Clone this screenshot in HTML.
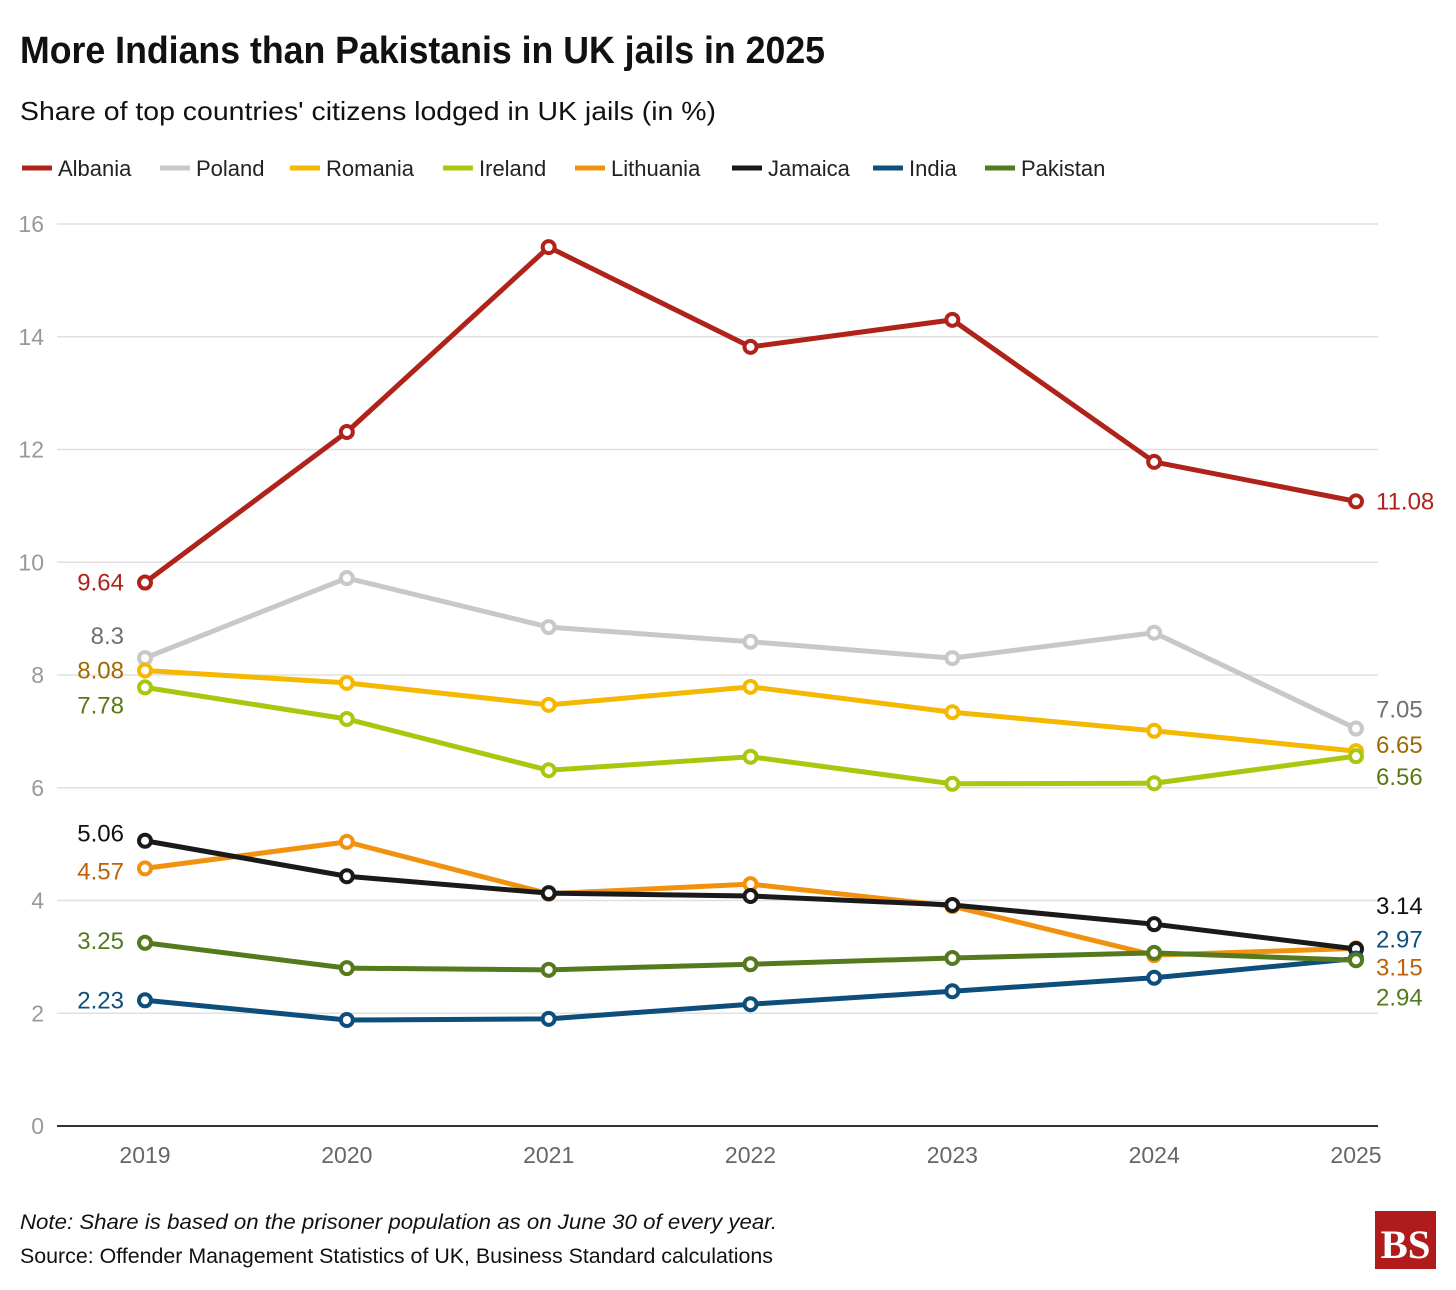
<!DOCTYPE html>
<html><head><meta charset="utf-8"><style>
html,body{margin:0;padding:0;background:#fff;}
svg{display:block;font-family:"Liberation Sans Narrow","Liberation Sans",sans-serif;}
</style></head><body>
<svg id="chart" width="1456" height="1290" viewBox="0 0 1456 1290">
<text x="20" y="63" font-size="38" font-weight="bold" fill="#111" textLength="805" lengthAdjust="spacingAndGlyphs">More Indians than Pakistanis in UK jails in 2025</text>
<text x="20" y="120" font-size="26" fill="#111" textLength="696" lengthAdjust="spacingAndGlyphs">Share of top countries' citizens lodged in UK jails (in %)</text>
<g id="legend"></g>
<g id="grid"></g>
<g id="xaxis"></g>
<g id="series"></g>
<text x="20" y="1229" font-size="21" font-style="italic" fill="#111" textLength="757" lengthAdjust="spacingAndGlyphs">Note: Share is based on the prisoner population as on June 30 of every year.</text>
<text x="20" y="1263" font-size="21" fill="#111" textLength="753" lengthAdjust="spacingAndGlyphs">Source: Offender Management Statistics of UK, Business Standard calculations</text>
<g>
<rect x="1375" y="1211" width="61" height="58" fill="#b01c1c"/>
<text x="1405.5" y="1258" text-anchor="middle" font-family="Liberation Serif,serif" font-weight="bold" font-size="40" fill="#fff" textLength="50" lengthAdjust="spacingAndGlyphs">BS</text>
</g>
</svg>
<script>
const years = ["2019","2020","2021","2022","2023","2024","2025"];
const yTicks = [0,2,4,6,8,10,12,14,16];
const seriesNames = ["Albania","Poland","Romania","Ireland","Lithuania","Jamaica","India","Pakistan"];
const albania = [9.64,12.31,15.59,13.82,14.30,11.78,11.08];
const poland = [8.3,9.72,8.85,8.59,8.30,8.75,7.05];
const romania = [8.08,7.86,7.47,7.79,7.34,7.01,6.65];
const ireland = [7.78,7.22,6.31,6.55,6.07,6.08,6.56];
const lithuania = [4.57,5.04,4.12,4.29,3.90,3.03,3.15];
const jamaica = [5.06,4.43,4.13,4.08,3.92,3.58,3.14];
const india = [2.23,1.88,1.90,2.16,2.39,2.63,2.97];
const pakistan = [3.25,2.80,2.77,2.87,2.98,3.07,2.94];

const NS="http://www.w3.org/2000/svg";
function mk(tag,attrs,parent){const e=document.createElementNS(NS,tag);for(const k in attrs)e.setAttribute(k,attrs[k]);parent.appendChild(e);return e;}
const x0=145,x1=1356,yBase=1126,yTop=224;
const xScale=i=>x0+(x1-x0)*i/(years.length-1);
const yScale=v=>yBase-(yBase-yTop)*v/16;

const styles=[
 {c:"#b0231a",lc:"#b0231a",dl:0,dr:0},
 {c:"#c8c8c8",lc:"#707070",dl:-22,dr:-19},
 {c:"#f5b800",lc:"#a06a00",dl:0,dr:-6},
 {c:"#a8c80f",lc:"#5a7a10",dl:18,dr:21},
 {c:"#f0920f",lc:"#c0600a",dl:3,dr:19},
 {c:"#1a1a1a",lc:"#111",dl:-7,dr:-43},
 {c:"#0d4f7a",lc:"#0d4f7a",dl:0,dr:-19},
 {c:"#557a1e",lc:"#557a1e",dl:-2,dr:37}
];
const allData=[albania,poland,romania,ireland,lithuania,jamaica,india,pakistan];

const grid=document.getElementById('grid');
yTicks.forEach(t=>{
 const y=yScale(t);
 if(t>0){const l=mk('line',{x1:57,x2:1378,y1:y,y2:y,stroke:"#e0e0e0","stroke-width":1.5},grid);
 
 }
 const tx=mk('text',{x:44,y:y+8,"text-anchor":"end","font-size":23,fill:"#999"},grid);
 tx.textContent=t;
 
 
});
const xa=document.getElementById('xaxis');
mk('line',{x1:57,x2:1378,y1:yBase,y2:yBase,stroke:"#333","stroke-width":2},xa);
years.forEach((yr,i)=>{
 const tx=mk('text',{x:xScale(i),y:1163,"text-anchor":"middle","font-size":23,fill:"#666"},xa);
 tx.textContent=yr;
 
 
});

const lg=document.getElementById('legend');
const legX=[22,160,290,443,575,732,873,985];
seriesNames.forEach((n,i)=>{
 const g=mk('g',{},lg);
 
 
 mk('line',{x1:legX[i],x2:legX[i]+30,y1:168,y2:168,stroke:styles[i].c,"stroke-width":5},g);
 const t=mk('text',{x:legX[i]+36,y:176,"font-size":22,fill:"#222"},g);
 t.textContent=n;
});

const sg=document.getElementById('series');
allData.forEach((d,si)=>{
 const s=styles[si];
 const g=mk('g',{},sg);
 
 
 const pts=d.map((v,i)=>xScale(i)+","+yScale(v)).join(" ");
 const pl=mk('polyline',{points:pts,fill:"none",stroke:s.c,"stroke-width":5,"stroke-linejoin":"round"},g);
 
 
 d.forEach((v,i)=>{
  const c=mk('circle',{cx:xScale(i),cy:yScale(v),r:6,fill:"#fff",stroke:s.c,"stroke-width":4},g);
  
  
 });
 const l=mk('text',{x:124,y:yScale(d[0])+s.dl+8,"text-anchor":"end","font-size":24,fill:s.lc},g);
 l.textContent=d[0];
 
 
 const r=mk('text',{x:1376,y:yScale(d[d.length-1])+s.dr+8,"font-size":24,fill:s.lc},g);
 r.textContent=d[d.length-1];
 
 
});
</script>
</body></html>
